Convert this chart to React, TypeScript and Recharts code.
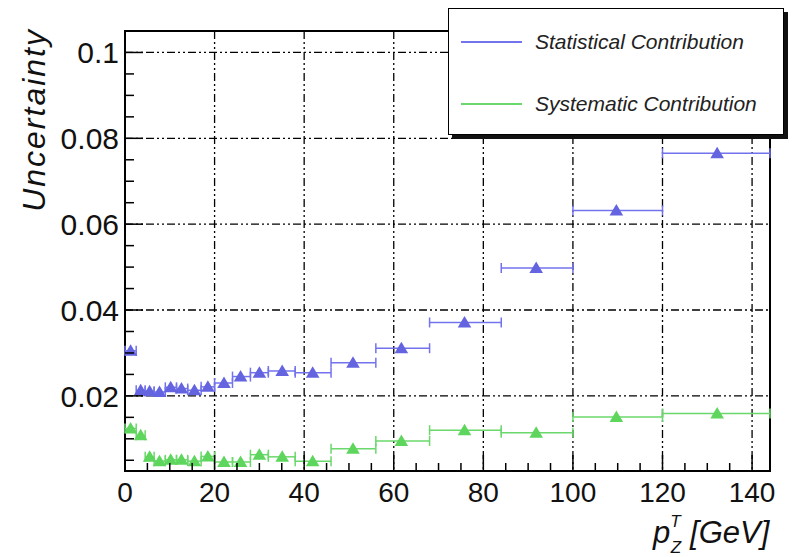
import React from "react";
import {
  ScatterChart,
  Scatter,
  XAxis,
  YAxis,
  CartesianGrid,
  ErrorBar,
  Legend,
  ReferenceArea,
  Label,
} from "recharts";

// bin centres (mean pT in the bin) and bin edges, GeV
const ptX = [1.25, 3.5, 5.5, 7.7, 10.2, 12.6, 15.5, 18.5, 22.1, 25.8, 30.0, 35.1, 41.9, 50.9, 61.7, 75.8, 91.8, 109.7, 132.2];
const binLo = [0, 2.5, 4.5, 6.5, 9, 11.5, 14, 17, 20, 24, 28, 32, 38, 46, 56, 68, 84, 100, 120];
const binHi = [2.5, 4.5, 6.5, 9, 11.5, 14, 17, 20, 24, 28, 32, 38, 46, 56, 68, 84, 100, 120, 144];

const statY = [0.0305, 0.0213, 0.0211, 0.0209, 0.022, 0.0217, 0.0213, 0.0221, 0.023, 0.0245, 0.0254, 0.0258, 0.0254, 0.0277, 0.0311, 0.0371, 0.0498, 0.0632, 0.0765];
const systY = [0.0124, 0.0108, 0.0058, 0.0048, 0.0051, 0.0051, 0.0048, 0.0059, 0.0046, 0.0046, 0.0063, 0.0058, 0.0048, 0.0077, 0.0095, 0.012, 0.0114, 0.0151, 0.0159];

const xTicks = [0, 5, 10, 15, 20, 25, 30, 35, 40, 45, 50, 55, 60, 65, 70, 75, 80, 85, 90, 95, 100, 105, 110, 115, 120, 125, 130, 135, 140];
const xMajor = [20, 40, 60, 80, 100, 120, 140];
const yTicks = [0.005, 0.01, 0.015, 0.02, 0.025, 0.03, 0.035, 0.04, 0.045, 0.05, 0.055, 0.06, 0.065, 0.07, 0.075, 0.08, 0.085, 0.09, 0.095, 0.1];
const yMajor = [0.02, 0.04, 0.06, 0.08, 0.1];
const yLabels = ["0.02", "0.04", "0.06", "0.08", "0.1"];

const X_MIN = 0;
const X_MAX = 144;
const Y_MIN = 0.0025;
const Y_MAX = 0.105;

const BLUE = "#6464e0";
const GREEN = "#5ed65e";
const BLUE_LINE = "#7373ee";
const GREEN_LINE = "#6ad86a";
const FONT = "'Liberation Sans', Arial, Helvetica, sans-serif";

const makeRows = (vals: number[]) =>
  ptX.map((x, i) => ({ x, y: vals[i], err: [x - binLo[i], binHi[i] - x] }));

const statRows = makeRows(statY);
const systRows = makeRows(systY);

const legendColors: Record<string, string> = {
  "Statistical Contribution": BLUE_LINE,
  "Systematic Contribution": GREEN_LINE,
};

const isMajorX = (v: number) => xMajor.includes(v) || v === 0;
const majorYIndex = (v: number) => yMajor.findIndex((m) => Math.abs(m - v) < 1e-9);

// filled triangle marker, like ROOT's marker 22
function Tri(props: any) {
  const { cx, cy, fill } = props;
  if (cx == null || cy == null) return null;
  const h = 6.5;
  const pts = `${cx},${cy - h} ${cx - 6.8},${cy + 5} ${cx + 6.8},${cy + 5}`;
  return <polygon points={pts} fill={fill} />;
}

function XTick(props: any) {
  const { x, y, payload } = props;
  const v = payload.value;
  const major = isMajorX(v);
  return (
    <g>
      <line x1={x} x2={x} y1={y} y2={y - (major ? 16 : 8)} stroke="#000" strokeWidth={1.5} />
      {major && (
        <text x={x} y={y + 31} textAnchor="middle" fontSize={28} fontFamily={FONT} fill="#111">
          {v}
        </text>
      )}
    </g>
  );
}

function YTick(props: any) {
  const { x, y, payload } = props;
  const idx = majorYIndex(payload.value);
  const major = idx >= 0;
  return (
    <g>
      <line x1={x} x2={x + (major ? 18 : 9)} y1={y} y2={y} stroke="#000" strokeWidth={1.5} />
      {major && (
        <text x={x - 6} y={y + 11} textAnchor="end" fontSize={30} fontFamily={FONT} fill="#111">
          {yLabels[idx]}
        </text>
      )}
    </g>
  );
}

function XTitle(props: any) {
  const { viewBox } = props;
  const sx = viewBox.x + viewBox.width - 117;
  const by = 543;
  return (
    <text x={sx} y={by} fontFamily={FONT} fontStyle="italic" fontSize={31} fill="#111">
      p
      <tspan dy={-16} fontSize={17}>T</tspan>
      <tspan dx={-10} dy={26} fontSize={17}>Z</tspan>
      <tspan dx={9} dy={-10} fontSize={31}>[GeV]</tspan>
    </text>
  );
}

function YTitle() {
  return (
    <text
      x={45}
      y={28}
      transform="rotate(-90, 45, 28)"
      textAnchor="end"
      fontFamily={FONT}
      fontStyle="italic"
      fontSize={32}
      letterSpacing={2}
      fill="#111"
    >
      Uncertainty
    </text>
  );
}

function LegendBox(props: any) {
  const items = props.payload || [];
  return (
    <div
      style={{
        width: 336,
        height: 127,
        boxSizing: "border-box",
        border: "1.5px solid #000",
        background: "#fff",
        boxShadow: "4px 4px 0 #111",
        position: "relative",
        fontFamily: FONT,
        fontStyle: "italic",
        fontSize: 21,
        color: "#222",
      }}
    >
      {items.map((it: any, i: number) => (
        <div key={it.value} style={{ position: "absolute", left: 12, top: 33 + i * 62 - 12, height: 24, width: 320 }}>
          <div
            style={{
              position: "absolute",
              left: 0,
              top: 11,
              width: 61,
              height: 2,
              background: legendColors[it.value] || it.color,
            }}
          />
          <span style={{ position: "absolute", left: 74, top: 0, lineHeight: "24px", whiteSpace: "nowrap" }}>{it.value}</span>
        </div>
      ))}
    </div>
  );
}

export default function App() {
  return (
    <div style={{ position: "absolute", left: 0, top: 0, width: 793, height: 557, background: "#fff", fontFamily: FONT }}>
      <ScatterChart width={793} height={557} margin={{ top: 31, right: 23, left: 25, bottom: 26 }}>
        <CartesianGrid
          horizontalValues={yMajor}
          verticalValues={xMajor}
          stroke="#000"
          strokeWidth={1.3}
          strokeDasharray="8 3 2 3 2 3"
        />
        <XAxis
          type="number"
          dataKey="x"
          domain={[X_MIN, X_MAX]}
          ticks={xTicks}
          interval={0}
          allowDataOverflow
          height={60}
          tickSize={0}
          tickMargin={0}
          tick={<XTick />}
          axisLine={false}
        >
          <Label content={<XTitle />} />
        </XAxis>
        <YAxis
          type="number"
          dataKey="y"
          domain={[Y_MIN, Y_MAX]}
          ticks={yTicks}
          interval={0}
          allowDataOverflow
          width={100}
          tickSize={0}
          tickMargin={0}
          tick={<YTick />}
          axisLine={false}
        >
          <Label content={<YTitle />} />
        </YAxis>
        <ReferenceArea x1={X_MIN} x2={X_MAX} y1={Y_MIN} y2={Y_MAX} fill="none" stroke="#000" strokeWidth={2} />
        <Scatter name="Statistical Contribution" data={statRows} fill={BLUE} shape={<Tri />} isAnimationActive={false}>
          <ErrorBar dataKey="err" direction="x" width={5} stroke={BLUE_LINE} strokeWidth={1.5} />
        </Scatter>
        <Scatter name="Systematic Contribution" data={systRows} fill={GREEN} shape={<Tri />} isAnimationActive={false}>
          <ErrorBar dataKey="err" direction="x" width={5} stroke={GREEN_LINE} strokeWidth={1.5} />
        </Scatter>
        <Legend
          layout="vertical"
          align="center"
          verticalAlign="middle"
          content={<LegendBox />}
          wrapperStyle={{ left: 448, top: 8, width: 336, height: 127 }}
        />
      </ScatterChart>
    </div>
  );
}
